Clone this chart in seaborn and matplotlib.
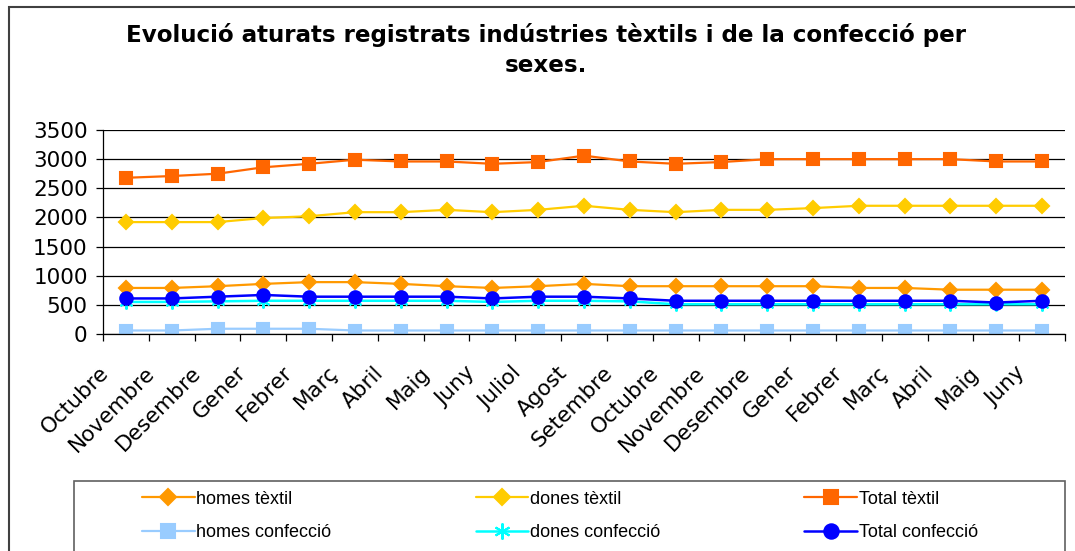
import numpy as np
import matplotlib
matplotlib.use("Agg")
import matplotlib.pyplot as plt
from matplotlib.patches import Rectangle
from matplotlib.transforms import ScaledTranslation
import seaborn as sns

# dades llegides del gràfic
months = ["Octubre", "Novembre", "Desembre", "Gener", "Febrer", "Març", "Abril",
          "Maig", "Juny", "Juliol", "Agost", "Setembre", "Octubre", "Novembre",
          "Desembre", "Gener", "Febrer", "Març", "Abril", "Maig", "Juny"]
homes_textil = [790, 790, 820, 860, 890, 890, 860, 820, 790, 820, 860,
                820, 820, 820, 820, 820, 790, 790, 760, 760, 760]
dones_textil = [1920, 1920, 1920, 1990, 2020, 2090, 2090, 2130, 2090, 2130, 2200,
                2130, 2090, 2130, 2130, 2160, 2200, 2200, 2200, 2200, 2200]
total_textil = [2680, 2710, 2750, 2860, 2920, 2990, 2960, 2960, 2920, 2950, 3060,
                2960, 2920, 2950, 3000, 3000, 3000, 3000, 3000, 2960, 2960]
homes_confeccio = [60, 60, 90, 90, 90, 60, 60, 60, 60, 60, 60,
                   60, 60, 60, 60, 60, 60, 60, 60, 60, 60]
dones_confeccio = [550, 550, 560, 570, 570, 570, 570, 570, 550, 570, 570,
                   560, 510, 510, 510, 510, 510, 510, 510, 510, 510]
total_confeccio = [610, 610, 640, 670, 640, 640, 640, 640, 610, 640, 640,
                   610, 570, 570, 570, 570, 570, 570, 570, 540, 570]

sns.set_theme(style="white")
plt.rcParams["font.family"] = ["DejaVu Sans"]
plt.rcParams["text.color"] = "black"
plt.rcParams["xtick.color"] = "black"
plt.rcParams["ytick.color"] = "black"

fig = plt.figure(figsize=(10.75, 5.51), dpi=100)
ax = fig.add_axes([103 / 1075, 1 - 334 / 551, 962 / 1075, 204 / 551])

x = np.arange(len(months))
series = [
    ("homes tèxtil", homes_textil, "#FF9900", "D", 7, 1.6),
    ("dones tèxtil", dones_textil, "#FFCC00", "D", 7, 1.6),
    ("Total tèxtil", total_textil, "#FF6600", "s", 8.5, 1.6),
    ("homes confecció", homes_confeccio, "#99CCFF", "s", 8.5, 1.6),
    ("dones confecció", dones_confeccio, "#00FFFF", (6, 2, 0), 10, 1.8),
    ("Total confecció", total_confeccio, "#0000FF", "o", 9, 1.8),
]
handles = {}
for name, vals, col, mk, ms, lw in series:
    sns.lineplot(x=x, y=vals, ax=ax, color=col, marker=mk, markersize=ms,
                 linewidth=lw, markeredgecolor=col, markeredgewidth=1.5,
                 label=name, legend=False)
    handles[name] = ax.lines[-1]

ax.set_xlim(-0.5, len(months) - 0.5)
ax.set_ylim(0, 3500)
ax.set_yticks(np.arange(0, 3501, 500))
ax.yaxis.grid(True, color="black", linewidth=0.9)
ax.set_axisbelow(True)
for s in ["top", "right"]:
    ax.spines[s].set_visible(False)
for s in ["left", "bottom"]:
    ax.spines[s].set_color("black")
    ax.spines[s].set_linewidth(0.9)

ax.set_xticks(x)
ax.set_xticklabels(months, rotation=45, ha="right", fontsize=15.5)
ax.set_xticks(np.arange(-0.5, len(months), 1), minor=True)
ax.tick_params(axis="x", which="major", length=0, pad=4)
ax.tick_params(axis="x", which="minor", length=5, width=0.9, color="black",
               direction="out", bottom=True)
ax.tick_params(axis="y", length=5, width=0.9, color="black", direction="out",
               left=True, labelsize=15.5, pad=6)
ax.set_xlabel("")
ax.set_ylabel("")

# desplaçament de les etiquetes (després de tick_params, que el reinicia)
shift = ScaledTranslation(-13 / 100, -23 / 100, fig.dpi_scale_trans)
for lab in ax.get_xticklabels():
    lab.set_transform(lab.get_transform() + shift)

fig.text(546 / 1075, 1 - 50 / 551,
         "Evolució aturats registrats indústries tèxtils i de la confecció per\nsexes.",
         ha="center", va="center", fontsize=16.6, fontweight="bold", linespacing=1.38,
         color="black")

# marc exterior i caixa de la llegenda
fig.patches.append(Rectangle((9 / 1075, -0.1), 1.1, 1.1 - 7 / 551, transform=fig.transFigure,
                             fill=False, edgecolor="#404040", linewidth=1.5))
fig.patches.append(Rectangle((74 / 1075, -0.1), (1065 - 74) / 1075, 0.1 + 1 - 481 / 551,
                             transform=fig.transFigure, fill=False,
                             edgecolor="#606060", linewidth=1.2))

order = ["homes tèxtil", "homes confecció", "dones tèxtil", "dones confecció",
         "Total tèxtil", "Total confecció"]
fig.legend([handles[n] for n in order], order, ncol=3, frameon=False,
           loc="upper left", bbox_to_anchor=(135 / 1075, 1 - 489 / 551, 850 / 1075, 0.01),
           mode="expand", handlelength=2.9, handletextpad=0.1, borderaxespad=0,
           labelspacing=0.92, markerscale=1.15,
           prop={"family": "Liberation Sans", "size": 13})

fig.savefig("out.png", dpi=100)
